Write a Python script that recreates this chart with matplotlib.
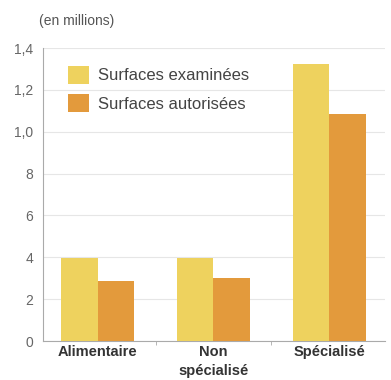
import matplotlib
matplotlib.use("Agg")
import matplotlib.pyplot as plt
import numpy as np

categories = ["Alimentaire", "Non\nspécialisé", "Spécialisé"]
series_names = ["Surfaces examinées", "Surfaces autorisées"]
examinees = [0.395, 0.395, 1.325]
autorisees = [0.285, 0.30, 1.085]
ytick_values = [0, 0.2, 0.4, 0.6, 0.8, 1.0, 1.2, 1.4]
ytick_labels = ["0", "2", "4", "6", "8", "1,0", "1,2", "1,4"]

plt.rcParams['font.family'] = ['Liberation Sans', 'DejaVu Sans']

fig = plt.figure(figsize=(3.91, 3.80), dpi=100)
ax = fig.add_axes([0.110, 0.1026, 0.875, 0.771])

x = np.arange(len(categories))
w = 0.315
c1 = "#EED25E"
c2 = "#E39A3C"
ax.bar(x - w/2, examinees, w, color=c1, label=series_names[0], zorder=3)
ax.bar(x + w/2, autorisees, w, color=c2, label=series_names[1], zorder=3)

ax.set_xlim(-0.47, 2.48)
ax.set_ylim(0, 1.4)
ax.set_yticks(ytick_values)
ax.set_yticklabels(ytick_labels, color="#666666", fontsize=10)
ax.yaxis.grid(True, color="#e6e6e6", linewidth=0.8, zorder=0)
ax.tick_params(axis='y', length=0, pad=7)
ax.set_xticks(x)
ax.set_xticklabels(categories, fontsize=10.5, fontweight="bold", color="#333333",
                   linespacing=1.45)
ax.set_xticks([0.5, 1.5], minor=True)
ax.tick_params(axis='x', which='major', length=0, pad=3)
ax.tick_params(axis='x', which='minor', length=3, color="#aaaaaa")
for s in ["top", "right"]:
    ax.spines[s].set_visible(False)
ax.spines["left"].set_color("#aaaaaa")
ax.spines["bottom"].set_color("#aaaaaa")

fig.text(0.100, 0.935, "(en millions)", fontsize=10, color="#555555")

leg = ax.legend(loc="upper left", bbox_to_anchor=(0.03, 0.99), frameon=False,
                fontsize=12, handlelength=1.25, handleheight=1.25,
                labelspacing=0.65, handletextpad=0.55, labelcolor="#444444")

fig.savefig("out.png", dpi=100)
